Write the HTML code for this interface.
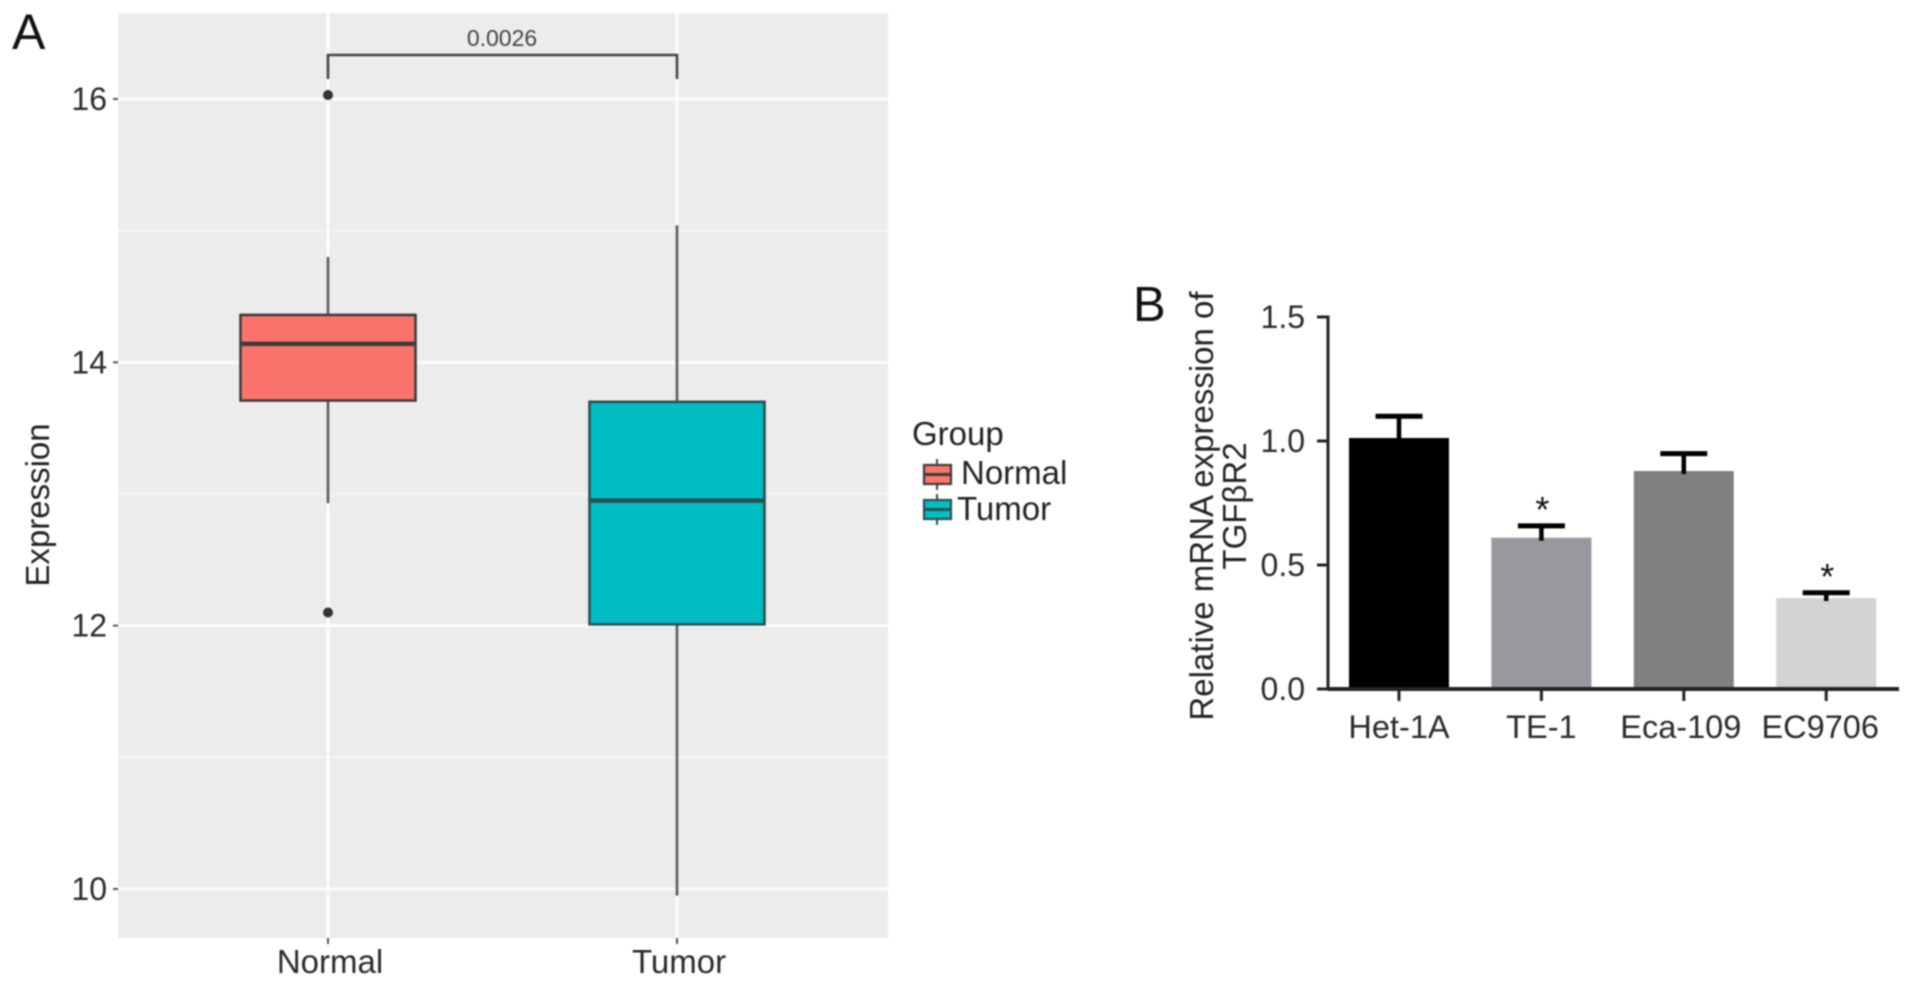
<!DOCTYPE html>
<html lang="en">
<head>
<meta charset="utf-8">
<title>Expression boxplot and TGFβR2 mRNA bar chart</title>
<style>
  html, body { margin: 0; padding: 0; background: #fff; width: 1913px; height: 986px; overflow: hidden; }
  svg { display: block; filter: blur(0.7px); font-family: "Liberation Sans", "DejaVu Sans", sans-serif; }
</style>
</head>
<body>
<svg id="figure" width="1913" height="986" viewBox="0 0 1913 986" xmlns="http://www.w3.org/2000/svg">
  <rect x="0" y="0" width="1913" height="986" fill="#ffffff"/>
  <text x="12" y="49" font-size="50" fill="#111">A</text>
  <text x="1133" y="321" font-size="49" fill="#111">B</text>

  <g id="chart-a">
    <rect x="118" y="13" width="770" height="925" fill="#ececec"/>
    <g id="a-grid"></g>
    <g id="a-axes"></g>
    <g id="a-marks"></g>
    <text transform="translate(49,505) rotate(-90)" text-anchor="middle" font-size="33" fill="#222">Expression</text>
    <g>
      <path d="M328 79V55H677V79" fill="none" stroke="#444" stroke-width="2.6"/>
      <text x="502" y="46" text-anchor="middle" font-size="23" fill="#444">0.0026</text>
    </g>
    <g>
      <text x="912" y="445" font-size="33" fill="#222">Group</text>
      <g>
        <line x1="937" x2="937" y1="459" y2="490" stroke="#444" stroke-width="2"/>
        <rect x="924" y="465" width="27" height="19" fill="#f8766d" stroke="#3c3c3c" stroke-width="2.2"/>
        <line x1="924" x2="951" y1="474.5" y2="474.5" stroke="#3c3c3c" stroke-width="3"/>
        <text x="961" y="484" font-size="33" fill="#222">Normal</text>
      </g>
      <g>
        <line x1="937" x2="937" y1="494" y2="525" stroke="#444" stroke-width="2"/>
        <rect x="924" y="500" width="27" height="19" fill="#00bfc4" stroke="#2f4f52" stroke-width="2.2"/>
        <line x1="924" x2="951" y1="509.5" y2="509.5" stroke="#2f4f52" stroke-width="3"/>
        <text x="957" y="520" font-size="33" fill="#222">Tumor</text>
      </g>
    </g>
  </g>

  <g id="chart-b">
    <g id="b-marks"></g>
    <g id="b-axes"></g>
    <g>
      <text transform="translate(1213,506) rotate(-90)" text-anchor="middle" font-size="33" fill="#222">Relative mRNA expression of</text>
      <text transform="translate(1246,506) rotate(-90)" text-anchor="middle" font-size="33" fill="#222">TGFβR2</text>
    </g>
  </g>
</svg>
<script>
// ---- Panel A data ----
const boxCategories = ['Normal', 'Tumor'];
const boxLow = [12.93, 9.95];
const boxQ1 = [13.71, 12.01];
const boxMedian = [14.14, 12.95];
const boxQ3 = [14.36, 13.70];
const boxHigh = [14.80, 15.04];
const boxOutliers = [[16.03, 12.10], []];
const boxColors = ['#fb746b', '#00bdc4'];
const boxStrokes = ['#3c3c3c', '#2b4f52'];
const majorTicksA = [10, 12, 14, 16];
const minorTicksA = [11, 13, 15];

// ---- Panel B data ----
const barCategories = ['Het-1A', 'TE-1', 'Eca-109', 'EC9706'];
const barValues = [1.012, 0.61, 0.879, 0.367];
const barErrors = [0.088, 0.048, 0.07, 0.021];
const barSignificant = [false, true, false, true];
const barColors = ['#000000', '#98989e', '#7f7f7f', '#d3d3d3'];
const ticksB = [0, 0.5, 1, 1.5];

// ---- Axis functions ----
const yA = v => 889 - (v - 10) * 131.67;
const xA = i => 328 + 349 * i;
const yB = v => 689 - v * 248;
const xB = i => 1399 + 142.4 * i;
const xBLabel = i => xB(i) - Math.max(0, i - 1) * 3;

const NS = 'http://www.w3.org/2000/svg';
function make(tag, parentId, props, text) {
  const el = document.createElementNS(NS, tag);
  for (const k in props) el.setAttribute(k, props[k]);
  if (text !== undefined) el.textContent = text;
  document.getElementById(parentId).appendChild(el);
  return el;
}

// Panel A grid
minorTicksA.forEach(v => {
  const el = make('line', 'a-grid', { x1: 118, x2: 888, y1: yA(v), y2: yA(v), stroke: '#f5f5f5', 'stroke-width': 2 });
  
  
});
majorTicksA.forEach(v => {
  const el = make('line', 'a-grid', { x1: 118, x2: 888, y1: yA(v), y2: yA(v), stroke: '#fcfcfc', 'stroke-width': 3 });
  
  
});
boxCategories.forEach((c, i) => {
  const el = make('line', 'a-grid', { x1: xA(i), x2: xA(i), y1: 13, y2: 938, stroke: '#fcfcfc', 'stroke-width': 3 });
  
  
});

// Panel A axes
majorTicksA.forEach(v => {
  const t = make('line', 'a-axes', { x1: 113, x2: 118, y1: yA(v), y2: yA(v), stroke: '#555', 'stroke-width': 2 });
  
  
  const l = make('text', 'a-axes', { x: 107, y: yA(v) + 11, 'text-anchor': 'end', 'font-size': 32, fill: '#2a2a2a' }, String(v));
  
  
});
boxCategories.forEach((c, i) => {
  const t = make('line', 'a-axes', { x1: xA(i), x2: xA(i), y1: 938, y2: 944, stroke: '#555', 'stroke-width': 2 });
  
  
  const l = make('text', 'a-axes', { x: xA(i) + 2, y: 973, 'text-anchor': 'middle', 'font-size': 33, fill: '#2a2a2a' }, c);
  
  
});

// Panel A boxes
const boxHalfWidth = 87.5;
boxCategories.forEach((c, i) => {
  const stroke = boxStrokes[i];
  const up = make('line', 'a-marks', { x1: xA(i), x2: xA(i), y1: yA(boxHigh[i]), y2: yA(boxQ3[i]), stroke: '#5a5a5a', 'stroke-width': 2.6 });
  
  
  const down = make('line', 'a-marks', { x1: xA(i), x2: xA(i), y1: yA(boxQ1[i]), y2: yA(boxLow[i]), stroke: '#5a5a5a', 'stroke-width': 2.6 });
  
  
  const box = make('rect', 'a-marks', {
    x: xA(i) - boxHalfWidth, y: yA(boxQ3[i]), width: boxHalfWidth * 2, height: yA(boxQ1[i]) - yA(boxQ3[i]),
    fill: boxColors[i], stroke: stroke, 'stroke-width': 2.6
  });
  
  
  const med = make('line', 'a-marks', { x1: xA(i) - boxHalfWidth, x2: xA(i) + boxHalfWidth, y1: yA(boxMedian[i]), y2: yA(boxMedian[i]), stroke: stroke, 'stroke-width': 4.5 });
  
  
  boxOutliers[i].forEach(v => {
    const p = make('circle', 'a-marks', { cx: xA(i), cy: yA(v), r: 5, fill: '#333' });
    
    
  });
});

// Panel B bars
const barWidth = 100;
const capWidth = 47;
barCategories.forEach((c, i) => {
  const top = yB(barValues[i]);
  const bar = make('rect', 'b-marks', { x: xB(i) - barWidth / 2, y: top, width: barWidth, height: yB(0) - top, fill: barColors[i] });
  
  
  const capY = yB(barValues[i] + barErrors[i]);
  const stem = make('line', 'b-marks', { x1: xB(i), x2: xB(i), y1: capY, y2: top + 3, stroke: '#000', 'stroke-width': 4.5 });
  
  
  const cap = make('line', 'b-marks', { x1: xB(i) - capWidth / 2, x2: xB(i) + capWidth / 2, y1: capY, y2: capY, stroke: '#000', 'stroke-width': 5 });
  
  
  if (barSignificant[i]) {
    const star = make('text', 'b-marks', { x: xB(i) + 1, y: capY - 4, 'text-anchor': 'middle', 'font-size': 36, fill: '#111' }, '*');
    
    
  }
});

// Panel B axes
const yAxisLine = make('line', 'b-axes', { x1: 1328, x2: 1328, y1: yB(1.5) - 1.5, y2: yB(0) + 1.5, stroke: '#222', 'stroke-width': 3 });


const xAxisLine = make('line', 'b-axes', { x1: 1328, x2: 1899, y1: yB(0), y2: yB(0), stroke: '#222', 'stroke-width': 4 });


ticksB.forEach(v => {
  const t = make('line', 'b-axes', { x1: 1317, x2: 1328, y1: yB(v), y2: yB(v), stroke: '#222', 'stroke-width': 3 });
  
  
  const l = make('text', 'b-axes', { x: 1305, y: yB(v) + 11, 'text-anchor': 'end', 'font-size': 32, fill: '#2a2a2a' }, v.toFixed(1));
  
  
});
barCategories.forEach((c, i) => {
  const t = make('line', 'b-axes', { x1: xB(i), x2: xB(i), y1: yB(0), y2: 701, stroke: '#222', 'stroke-width': 3 });
  
  
  const l = make('text', 'b-axes', { x: xBLabel(i), y: 738, 'text-anchor': 'middle', 'font-size': 32.5, fill: '#2a2a2a' }, c);
  
  
});
</script>
</body>
</html>
